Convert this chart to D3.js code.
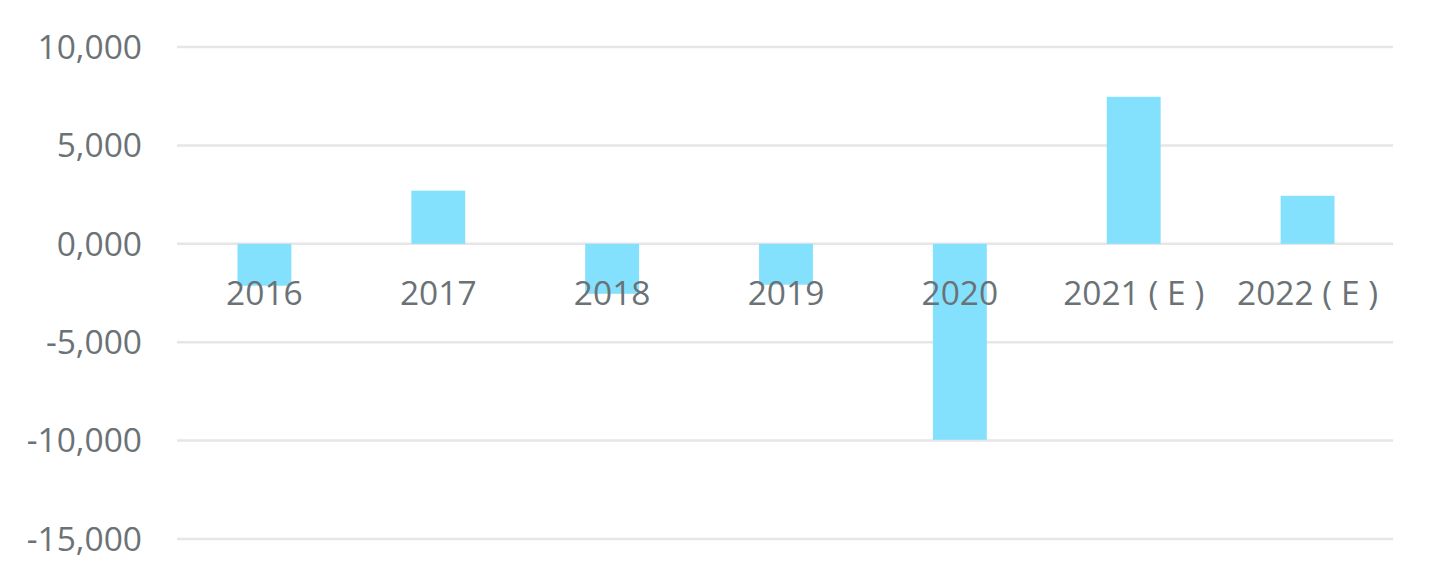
<!DOCTYPE html>
<html><head><meta charset="utf-8">
<script src="https://cdn.jsdelivr.net/npm/d3@7"></script>
<style>body{margin:0;background:#fff;}svg{display:block;}</style>
</head><body>
<script>
const categories = ["2016","2017","2018","2019","2020","2021 ( E )","2022 ( E )"];
const values = [-2130, 2700, -2540, -2080, -9960, 7470, 2440];
const tickValues = [10000, 5000, 0, -5000, -10000, -15000];
const tickLabels = ["10,000","5,000","0,000","-5,000","-10,000","-15,000"];

const W = 1441, H = 582;
const svg = d3.select("body").append("svg").attr("width", W).attr("height", H);
const font = "'Open Sans', 'Liberation Sans', sans-serif";
const textColor = "#6b7276";

const x = d3.scaleBand().domain(categories).range([177.5, 1394.5]).paddingInner(0.69).paddingOuter(0.345);
const y = d3.scaleLinear().domain([-15000, 10000]).range([539, 47]);

// gridlines
svg.append("g").selectAll("line").data(tickValues).join("line")
  .attr("x1", 177).attr("x2", 1393)
  .attr("y1", d => y(d)).attr("y2", d => y(d))
  .attr("stroke", "#e6e6e6").attr("stroke-width", 2.5);

// y tick labels
svg.append("g").selectAll("text").data(tickValues).join("text")
  .attr("x", 142).attr("y", d => y(d))
  .attr("dy", "0.35em")
  .attr("text-anchor", "end")
  .attr("font-family", font).attr("font-size", 33.5)
  .attr("fill", textColor)
  .text((d, i) => tickLabels[i]);

// bars
svg.append("g").selectAll("rect").data(values).join("rect")
  .attr("x", (d, i) => x(categories[i]))
  .attr("width", x.bandwidth())
  .attr("y", d => y(Math.max(0, d)))
  .attr("height", d => Math.abs(y(d) - y(0)))
  .attr("fill", "#84e1fd");

// category labels
svg.append("g").selectAll("text").data(categories).join("text")
  .attr("x", d => x(d) + x.bandwidth() / 2)
  .attr("y", y(0) + 61)
  .attr("text-anchor", "middle")
  .attr("font-family", font).attr("font-size", 33.5)
  .attr("fill", textColor)
  .text(d => d);
</script>
</body></html>
